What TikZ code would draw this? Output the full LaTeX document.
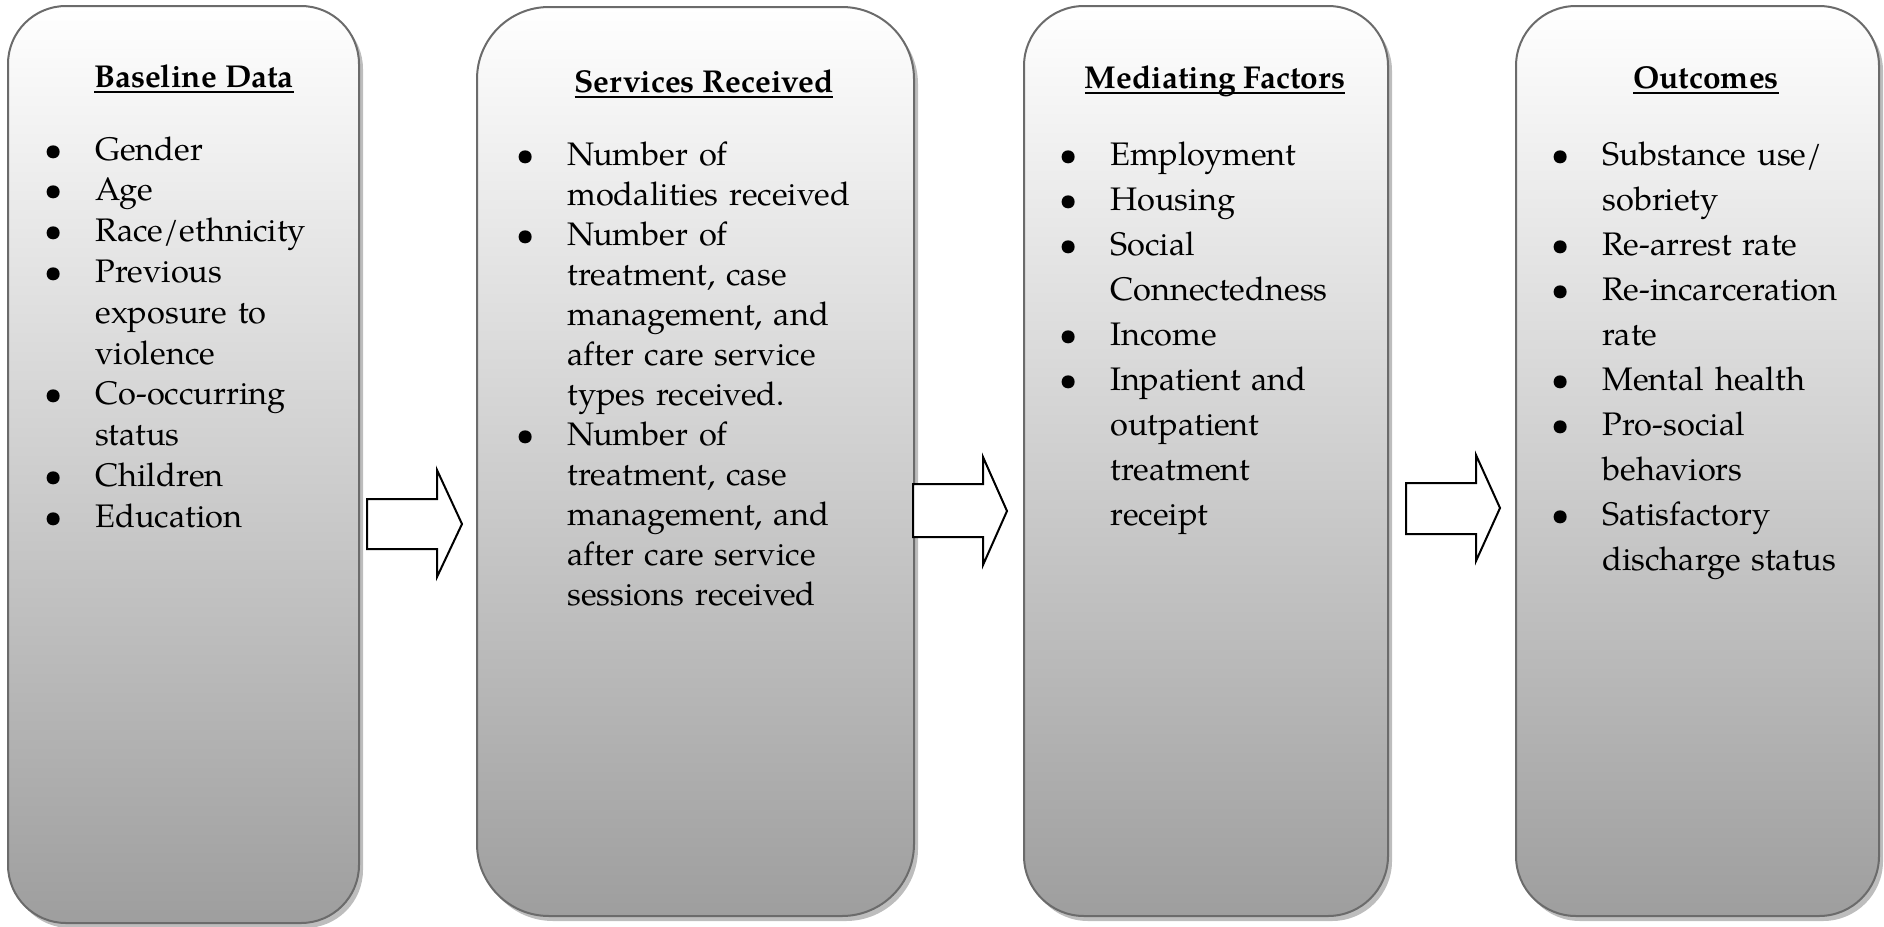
\documentclass[tikz,border=0pt]{standalone}
\usepackage{fontspec}
\setmainfont{texgyrepagella}[Extension=.otf,UprightFont=*-regular,BoldFont=*-bold,ItalicFont=*-italic,BoldItalicFont=*-bolditalic]
\usetikzlibrary{shadows}

% underlined bold heading with the rule set just under the baseline
\newsavebox\titlebox
\newcommand\boxtitle[1]{\sbox\titlebox{\bfseries #1}\rlap{\rule[-3pt]{\wd\titlebox}{0.9pt}}\usebox\titlebox}
% hanging bullet, centred 21pt left of the item text
\newcommand\bitem{\leavevmode\llap{\makebox[21pt][l]{\makebox[0pt]{\textbullet}}}}

\tikzset{
  panel/.style={draw=black!58, line width=1pt, rounded corners=#1,
    top color=white, bottom color=black!38, inner sep=0pt,
    drop shadow={shadow xshift=2pt, shadow yshift=-2.5pt, fill=black!26, opacity=1}},
  heading/.style={anchor=base, inner sep=0pt, font={\fontsize{15.8}{19}\selectfont}},
  itemlist/.style={anchor=base west, inner sep=0pt, text width=200pt, align=left,
    font={\fontsize{16.3}{#1}\selectfont}},
  blockarrow/.style={draw=black, fill=white, line width=1pt, line join=miter},
}

\begin{document}
\begin{tikzpicture}[x=0.5pt, y=-0.5pt]
\useasboundingbox (0,0) rectangle (1884,926);

% the four stages
\node[panel=29pt, minimum width=175.5pt, minimum height=458.5pt] (baseline) at (183.5,464.5) {};
\node[panel=36pt, minimum width=218.5pt, minimum height=454.5pt] (services) at (695.5,461.5) {};
\node[panel=30pt, minimum width=182pt, minimum height=455pt] (mediating) at (1206,461) {};
\node[panel=30pt, minimum width=181.5pt, minimum height=455pt] (outcomes) at (1697.5,461) {};

% block arrows between the stages
\draw[blockarrow] (367,499) -- (437,499) -- (437,470) -- (462,524) -- (437,577) -- (437,549) -- (367,549) -- cycle;
\draw[blockarrow] (913,484) -- (983,484) -- (983,457) -- (1007,511) -- (983,565) -- (983,537) -- (913,537) -- cycle;
\draw[blockarrow] (1406,483) -- (1476,483) -- (1476,455) -- (1500,508) -- (1476,561) -- (1476,534) -- (1406,534) -- cycle;

% headings
\node[heading] (baseline-title) at (194,87) {\boxtitle{Baseline Data}};
\node[heading] (services-title) at (704,92) {\boxtitle{Services Received}};
\node[heading] (mediating-title) at (1215,88) {\boxtitle{Mediating Factors}};
\node[heading] (outcomes-title) at (1706,88) {\boxtitle{Outcomes}};

% item lists
\node[itemlist=20.4] (baseline-list) at (95,160) {%
\bitem Gender\\
\bitem Age\\
\bitem Race/ethnicity\\
\bitem Previous\\
exposure to\\
violence\\
\bitem Co-occurring\\
status\\
\bitem Children\\
\bitem Education};

\node[itemlist=20] (services-list) at (567,165) {%
\bitem Number of\\
modalities received\\
\bitem Number of\\
treatment, case\\
management, and\\
after care service\\
types received.\\
\bitem Number of\\
treatment, case\\
management, and\\
after care service\\
sessions received};

\node[itemlist=22.5] (mediating-list) at (1110,165) {%
\bitem Employment\\
\bitem Housing\\
\bitem Social\\
Connectedness\\
\bitem Income\\
\bitem Inpatient and\\
outpatient\\
treatment\\
receipt};

\node[itemlist=22.5] (outcomes-list) at (1602,165) {%
\bitem Substance use/\\
sobriety\\
\bitem Re-arrest rate\\
\bitem Re-incarceration\\
rate\\
\bitem Mental health\\
\bitem Pro-social\\
behaviors\\
\bitem Satisfactory\\
discharge status};
\end{tikzpicture}
\end{document}
